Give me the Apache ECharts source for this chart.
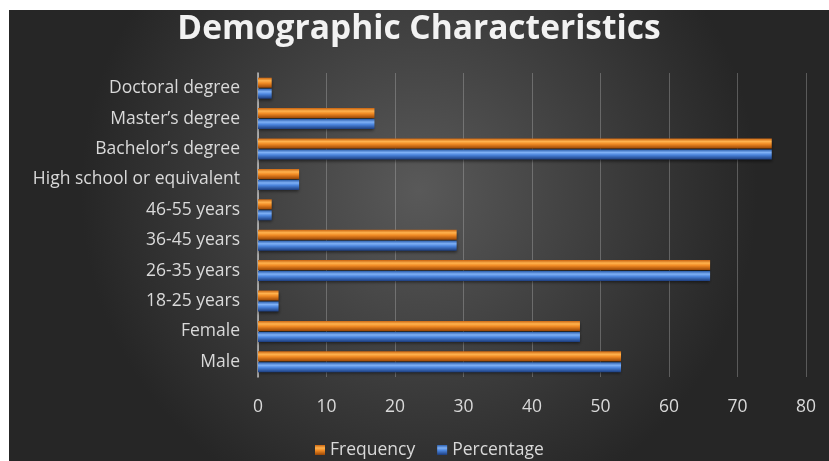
<!DOCTYPE html>
<html>
<head>
<meta charset="utf-8">
<script src="https://cdn.jsdelivr.net/npm/echarts@6/dist/echarts.min.js"></script>
<style>
html, body { margin: 0; padding: 0; background: #fff; }
#chart { position: absolute; left: 9px; top: 10px; width: 820px; height: 451px; }
</style>
</head>
<body>
<div id="chart"></div>
<script>
var categories = ['Male', 'Female', '18-25 years', '26-35 years', '36-45 years', '46-55 years',
	'High school or equivalent', 'Bachelor\u2019s degree', 'Master\u2019s degree', 'Doctoral degree'];
var frequency = [53, 47, 3, 66, 29, 2, 6, 75, 17, 2];
var percentage = [53, 47, 3, 66, 29, 2, 6, 75, 17, 2];
var xTicks = [0, 10, 20, 30, 40, 50, 60, 70, 80];

var font = 'Open Sans';

function tube(dark, light, mid, deep) {
	return new echarts.graphic.LinearGradient(0, 0, 0, 1, [
		{ offset: 0, color: dark },
		{ offset: 0.3, color: light },
		{ offset: 0.55, color: mid },
		{ offset: 1, color: deep }
	]);
}

var orange = tube('#c96410', '#ffb24e', '#f08a24', '#9a4706');
var blue = tube('#2b5fae', '#7fb0f5', '#4a84dc', '#1c3c7c');

var myChart = echarts.init(document.getElementById('chart'));

var option = {
	backgroundColor: new echarts.graphic.RadialGradient(0.5, 0.4, 0.75, [
		{ offset: 0, color: '#595959' },
		{ offset: 1, color: '#262626' }
	]),
	animation: false,
	title: {
		text: 'Demographic Characteristics',
		left: 'center',
		top: -3,
		textStyle: {
			color: '#f2f2f2',
			fontFamily: font,
			fontWeight: 'bold',
			fontSize: 33.5
		}
	},
	legend: {
		data: ['Frequency', 'Percentage'],
		top: 426,
		left: 301,
		icon: 'rect',
		itemWidth: 10,
		itemHeight: 10,
		itemGap: 22,
		textStyle: {
			color: '#d9d9d9',
			fontFamily: font,
			fontSize: 17.5
		}
	},
	grid: {
		left: 249,
		right: 23,
		top: 63,
		bottom: 84
	},
	xAxis: {
		type: 'value',
		min: xTicks[0],
		max: xTicks[xTicks.length - 1],
		interval: 10,
		axisLine: { show: false },
		axisTick: { show: false },
		axisLabel: {
			color: '#d9d9d9',
			fontFamily: font,
			fontSize: 17.5,
			margin: 21
		},
		splitLine: {
			lineStyle: { color: 'rgba(190,190,190,0.35)', width: 1 }
		}
	},
	yAxis: {
		type: 'category',
		data: categories,
		axisLine: { lineStyle: { color: '#bfbfbf', width: 1.5 } },
		axisTick: { show: false },
		axisLabel: {
			color: '#d9d9d9',
			fontFamily: font,
			fontSize: 17.5,
			margin: 18
		}
	},
	series: [{
		name: 'Frequency',
		type: 'bar',
		data: frequency,
		barWidth: 10,
		barGap: '10%',
		itemStyle: {
			color: orange,
			shadowColor: 'rgba(0,0,0,0.5)',
			shadowBlur: 3,
			shadowOffsetY: 2
		}
	}, {
		name: 'Percentage',
		type: 'bar',
		data: percentage,
		barWidth: 10,
		barGap: '10%',
		itemStyle: {
			color: blue,
			shadowColor: 'rgba(0,0,0,0.5)',
			shadowBlur: 3,
			shadowOffsetY: 2
		}
	}]
};

myChart.setOption(option);
</script>
</body>
</html>
